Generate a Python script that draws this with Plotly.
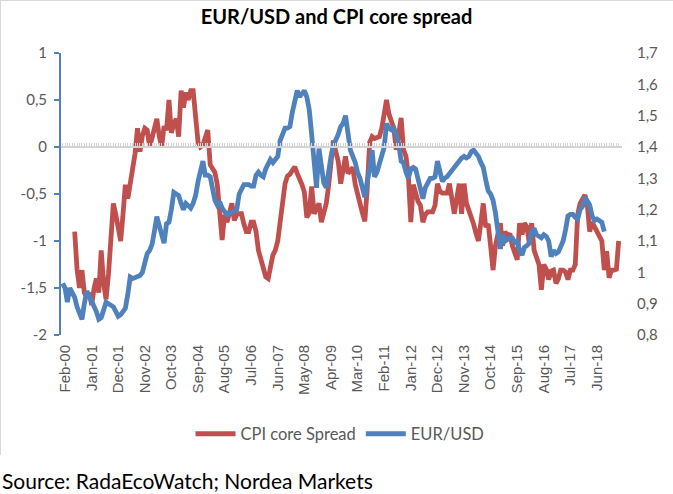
import plotly.graph_objects as go

# ---------------- data ----------------
cpi_dates = [
    "2000-06", "2000-07", "2000-08", "2000-09", "2000-10", "2000-11", "2000-12",
    "2001-01", "2001-02", "2001-03", "2001-04", "2001-05", "2001-06", "2001-07", "2001-08", "2001-09", "2001-10", "2001-11", "2001-12",
    "2002-01", "2002-02", "2002-03", "2002-04", "2002-05", "2002-06", "2002-07", "2002-08", "2002-09", "2002-10", "2002-11", "2002-12",
    "2003-01", "2003-02", "2003-03", "2003-04", "2003-05", "2003-06", "2003-07", "2003-08", "2003-09", "2003-10", "2003-11", "2003-12",
    "2004-01", "2004-02", "2004-03", "2004-04", "2004-05", "2004-06", "2004-07", "2004-08", "2004-09", "2004-10", "2004-11", "2004-12",
    "2005-01", "2005-02", "2005-03", "2005-04", "2005-05", "2005-06", "2005-07", "2005-08", "2005-09", "2005-10", "2005-11", "2005-12",
    "2006-01", "2006-02", "2006-03", "2006-04", "2006-05", "2006-06", "2006-07", "2006-08", "2006-09", "2006-10", "2006-11", "2006-12",
    "2007-01", "2007-02", "2007-03", "2007-04", "2007-05", "2007-06", "2007-07", "2007-08", "2007-09", "2007-10", "2007-11", "2007-12",
    "2008-01", "2008-02", "2008-03", "2008-04", "2008-05", "2008-06", "2008-07", "2008-08", "2008-09", "2008-10", "2008-11", "2008-12",
    "2009-01", "2009-02", "2009-03", "2009-04", "2009-05", "2009-06", "2009-07", "2009-08", "2009-09", "2009-10", "2009-11", "2009-12",
    "2010-01", "2010-02", "2010-03", "2010-04", "2010-05", "2010-06", "2010-07", "2010-08", "2010-09", "2010-10", "2010-11", "2010-12",
    "2011-01", "2011-02", "2011-03", "2011-04", "2011-05", "2011-06", "2011-07", "2011-08", "2011-09", "2011-10", "2011-11", "2011-12",
    "2012-01", "2012-02", "2012-03", "2012-04", "2012-05", "2012-06", "2012-07", "2012-08", "2012-09", "2012-10", "2012-11", "2012-12",
    "2013-01", "2013-02", "2013-03", "2013-04", "2013-05", "2013-06", "2013-07", "2013-08", "2013-09", "2013-10", "2013-11", "2013-12",
    "2014-01", "2014-02", "2014-03", "2014-04", "2014-05", "2014-06", "2014-07", "2014-08", "2014-09", "2014-10", "2014-11", "2014-12",
    "2015-01", "2015-02", "2015-03", "2015-04", "2015-05", "2015-06", "2015-07", "2015-08", "2015-09", "2015-10", "2015-11", "2015-12",
    "2016-01", "2016-02", "2016-03", "2016-04", "2016-05", "2016-06", "2016-07", "2016-08", "2016-09", "2016-10", "2016-11", "2016-12",
    "2017-01", "2017-02", "2017-03", "2017-04", "2017-05", "2017-06", "2017-07", "2017-08", "2017-09", "2017-10", "2017-11", "2017-12",
    "2018-01", "2018-02", "2018-03", "2018-04", "2018-05", "2018-06", "2018-07", "2018-08", "2018-09", "2018-10", "2018-11", "2018-12",
    "2019-01", "2019-02", "2019-03",
]
cpi_spread = [
    -0.90, -1.30, -1.50, -1.31, -1.55, -1.60, -1.55,
    -1.68, -1.50, -1.40, -1.55, -1.10, -1.45, -1.62, -1.35, -1.00, -0.60, -0.72, -0.85,
    -1.00, -0.70, -0.40, -0.55, -0.40, -0.22, -0.07, 0.20, -0.05, 0.12, 0.20, 0.18,
    0.00, 0.10, 0.18, 0.30, 0.12, 0.00, 0.22, 0.18, 0.50, 0.15, 0.25, 0.30,
    0.11, 0.60, 0.42, 0.58, 0.50, 0.60, 0.60, 0.25, 0.05, 0.00, 0.02, 0.10,
    0.18, -0.19, -0.22, -0.27, -0.40, -0.75, -0.99, -0.72, -0.80, -0.70, -0.60, -0.78,
    -0.72, -0.71, -0.71, -0.82, -0.90, -0.90, -0.80, -0.80, -0.90, -1.10, -1.20, -1.30,
    -1.38, -1.40, -1.25, -1.15, -1.10, -1.00, -0.80, -0.60, -0.39, -0.31, -0.29, -0.25,
    -0.21, -0.28, -0.33, -0.40, -0.48, -0.75, -0.70, -0.42, -0.71, -0.65, -0.60, -0.80,
    -0.70, -0.60, -0.42, -0.10, 0.07, -0.05, -0.15, -0.39, -0.20, -0.10, -0.28, -0.25,
    -0.22, -0.40, -0.52, -0.60, -0.70, -0.79, -0.45, 0.05, 0.11, 0.09, 0.10, 0.11,
    0.20, 0.40, 0.50, 0.35, 0.28, 0.20, -0.03, 0.15, 0.31, -0.03, -0.10, -0.30,
    -0.80, -0.40, -0.50, -0.58, -0.62, -0.80, -0.72, -0.69, -0.69, -0.69, -0.62, -0.39,
    -0.47, -0.49, -0.49, -0.49, -0.39, -0.60, -0.71, -0.55, -0.39, -0.71, -0.39, -0.60,
    -0.67, -0.75, -0.82, -0.92, -1.00, -0.80, -0.60, -0.85, -0.82, -1.05, -1.31, -1.05,
    -0.90, -0.81, -1.05, -0.90, -0.95, -0.92, -1.05, -1.13, -1.20, -0.81, -0.93, -0.81,
    -0.85, -1.03, -0.81, -1.10, -1.17, -1.25, -1.52, -1.25, -1.30, -1.41, -1.32, -1.31,
    -1.45, -1.40, -1.31, -1.31, -1.33, -1.41, -1.31, -1.31, -1.25, -0.72, -0.60, -0.55,
    -0.51, -0.63, -0.90, -0.80, -0.85, -0.90, -0.95, -1.00, -1.31, -1.11, -1.39, -1.31,
    -1.31, -1.30, -1.00,
]

eur_dates = [
    "2000-01", "2000-02", "2000-03", "2000-04", "2000-05", "2000-06", "2000-07", "2000-08", "2000-09", "2000-10", "2000-11", "2000-12",
    "2001-01", "2001-02", "2001-03", "2001-04", "2001-05", "2001-06", "2001-07", "2001-08", "2001-09", "2001-10", "2001-11", "2001-12",
    "2002-01", "2002-02", "2002-03", "2002-04", "2002-05", "2002-06", "2002-07", "2002-08", "2002-09", "2002-10", "2002-11", "2002-12",
    "2003-01", "2003-02", "2003-03", "2003-04", "2003-05", "2003-06", "2003-07", "2003-08", "2003-09", "2003-10", "2003-11", "2003-12",
    "2004-01", "2004-02", "2004-03", "2004-04", "2004-05", "2004-06", "2004-07", "2004-08", "2004-09", "2004-10", "2004-11", "2004-12",
    "2005-01", "2005-02", "2005-03", "2005-04", "2005-05", "2005-06", "2005-07", "2005-08", "2005-09", "2005-10", "2005-11", "2005-12",
    "2006-01", "2006-02", "2006-03", "2006-04", "2006-05", "2006-06", "2006-07", "2006-08", "2006-09", "2006-10", "2006-11", "2006-12",
    "2007-01", "2007-02", "2007-03", "2007-04", "2007-05", "2007-06", "2007-07", "2007-08", "2007-09", "2007-10", "2007-11", "2007-12",
    "2008-01", "2008-02", "2008-03", "2008-04", "2008-05", "2008-06", "2008-07", "2008-08", "2008-09", "2008-10", "2008-11", "2008-12",
    "2009-01", "2009-02", "2009-03", "2009-04", "2009-05", "2009-06", "2009-07", "2009-08", "2009-09", "2009-10", "2009-11", "2009-12",
    "2010-01", "2010-02", "2010-03", "2010-04", "2010-05", "2010-06", "2010-07", "2010-08", "2010-09", "2010-10", "2010-11", "2010-12",
    "2011-01", "2011-02", "2011-03", "2011-04", "2011-05", "2011-06", "2011-07", "2011-08", "2011-09", "2011-10", "2011-11", "2011-12",
    "2012-01", "2012-02", "2012-03", "2012-04", "2012-05", "2012-06", "2012-07", "2012-08", "2012-09", "2012-10", "2012-11", "2012-12",
    "2013-01", "2013-02", "2013-03", "2013-04", "2013-05", "2013-06", "2013-07", "2013-08", "2013-09", "2013-10", "2013-11", "2013-12",
    "2014-01", "2014-02", "2014-03", "2014-04", "2014-05", "2014-06", "2014-07", "2014-08", "2014-09", "2014-10", "2014-11", "2014-12",
    "2015-01", "2015-02", "2015-03", "2015-04", "2015-05", "2015-06", "2015-07", "2015-08", "2015-09", "2015-10", "2015-11", "2015-12",
    "2016-01", "2016-02", "2016-03", "2016-04", "2016-05", "2016-06", "2016-07", "2016-08", "2016-09", "2016-10", "2016-11", "2016-12",
    "2017-01", "2017-02", "2017-03", "2017-04", "2017-05", "2017-06", "2017-07", "2017-08", "2017-09", "2017-10", "2017-11", "2017-12",
    "2018-01", "2018-02", "2018-03", "2018-04", "2018-05", "2018-06", "2018-07", "2018-08", "2018-09",
]
eur_usd = [
    0.965, 0.950, 0.905, 0.950, 0.935, 0.920, 0.890, 0.870, 0.850, 0.900, 0.940, 0.925,
    0.910, 0.890, 0.875, 0.850, 0.855, 0.880, 0.905, 0.900, 0.895, 0.890, 0.875, 0.860,
    0.865, 0.875, 0.885, 0.930, 0.985, 0.980, 0.982, 0.985, 0.990, 1.000, 1.040, 1.060,
    1.070, 1.090, 1.130, 1.178, 1.150, 1.120, 1.093, 1.155, 1.160, 1.200, 1.255, 1.250,
    1.245, 1.220, 1.200, 1.220, 1.210, 1.205, 1.220, 1.245, 1.290, 1.330, 1.355, 1.310,
    1.310, 1.305, 1.270, 1.230, 1.215, 1.225, 1.205, 1.195, 1.183, 1.190, 1.190, 1.195,
    1.200, 1.250, 1.265, 1.280, 1.280, 1.280, 1.275, 1.275, 1.310, 1.320, 1.310, 1.305,
    1.330, 1.345, 1.360, 1.350, 1.360, 1.370, 1.420, 1.440, 1.460, 1.460, 1.465, 1.510,
    1.545, 1.580, 1.560, 1.570, 1.580, 1.560, 1.520, 1.440, 1.340, 1.270, 1.395, 1.330,
    1.285, 1.270, 1.330, 1.370, 1.405, 1.420, 1.440, 1.465, 1.475, 1.500, 1.450, 1.390,
    1.370, 1.350, 1.320, 1.300, 1.270, 1.240, 1.290, 1.330, 1.390, 1.305, 1.320, 1.350,
    1.370, 1.400, 1.475, 1.460, 1.455, 1.460, 1.440, 1.410, 1.355, 1.350, 1.320, 1.300,
    1.330, 1.335, 1.330, 1.300, 1.260, 1.235, 1.270, 1.285, 1.300, 1.300, 1.305, 1.355,
    1.320, 1.290, 1.300, 1.305, 1.315, 1.325, 1.340, 1.350, 1.355, 1.365, 1.370, 1.365,
    1.370, 1.385, 1.390, 1.380, 1.370, 1.350, 1.335, 1.295, 1.260, 1.250, 1.230, 1.190,
    1.120, 1.075, 1.120, 1.100, 1.105, 1.110, 1.110, 1.095, 1.100, 1.070, 1.055, 1.080,
    1.085, 1.093, 1.130, 1.140, 1.120, 1.115, 1.110, 1.120, 1.115, 1.100, 1.050, 1.070,
    1.060, 1.065, 1.085, 1.100, 1.135, 1.180, 1.185, 1.185, 1.175, 1.170, 1.200, 1.210,
    1.240, 1.225, 1.215, 1.180, 1.165, 1.170, 1.165, 1.160, 1.130,
]

x_tick_dates = [
    "2000-02", "2001-01", "2001-12", "2002-11", "2003-10", "2004-09", "2005-08",
    "2006-07", "2007-06", "2008-05", "2009-04", "2010-03", "2011-02", "2012-01",
    "2012-12", "2013-11", "2014-10", "2015-09", "2016-08", "2017-07", "2018-06",
]
x_tick_labels = [
    "Feb-00", "Jan-01", "Dec-01", "Nov-02", "Oct-03", "Sep-04", "Aug-05",
    "Jul-06", "Jun-07", "May-08", "Apr-09", "Mar-10", "Feb-11", "Jan-12",
    "Dec-12", "Nov-13", "Oct-14", "Sep-15", "Aug-16", "Jul-17", "Jun-18",
]
left_ticks = [-2, -1.5, -1, -0.5, 0, 0.5, 1]
left_labels = ["-2", "-1,5", "-1", "-0,5", "0", "0,5", "1"]
right_ticks = [0.8, 0.9, 1.0, 1.1, 1.2, 1.3, 1.4, 1.5, 1.6, 1.7]
right_labels = ["0,8", "0,9", "1", "1,1", "1,2", "1,3", "1,4", "1,5", "1,6", "1,7"]

title_text = "EUR/USD and CPI core spread"
source_text = "Source: RadaEcoWatch; Nordea Markets"

# ---------------- styling ----------------
RED = "#C0504D"
BLUE = "#4F81BD"
GREY_TXT = "#595959"
CAL = "Lato, 'Open Sans', sans-serif"
ARIAL = "'Liberation Sans', Arial, sans-serif"
X_RANGE = ["1999-12-12", "2019-04-12"]
W, H = 673, 494
ML, MR, MT, MB = 61, 51, 53, 159
PW, PH = W - ML - MR, H - MT - MB

fig = go.Figure()
fig.add_trace(go.Scatter(
    x=[d + "-01" for d in cpi_dates], y=cpi_spread, name="CPI core Spread",
    mode="lines", line=dict(color=RED, width=4.8), xaxis="x", yaxis="y",
))
fig.add_trace(go.Scatter(
    x=[d + "-01" for d in eur_dates], y=eur_usd, name="EUR/USD",
    mode="lines", line=dict(color=BLUE, width=4.8), xaxis="x2", yaxis="y2",
))

fig.update_layout(
    width=W, height=H,
    margin=dict(l=ML, r=MR, t=MT, b=MB),
    paper_bgcolor="white", plot_bgcolor="white",
    showlegend=True,
    title=dict(text="<b>" + title_text + "</b>", x=0.5, xref="container",
               y=1 - 17 / H, yref="container", yanchor="middle", xanchor="center",
               font=dict(family=CAL, size=20, color="black")),
    # category labels at the bottom
    xaxis=dict(
        type="date", range=X_RANGE, anchor="y",
        tickmode="array", tickvals=[d + "-01" for d in x_tick_dates], ticktext=x_tick_labels,
        tickangle=-90, ticks="", showline=False, showgrid=False, zeroline=False,
        ticklabelstandoff=6,
        tickfont=dict(family=ARIAL, size=15, color=GREY_TXT),
    ),
    # horizontal axis line crossing at 0 with monthly tick marks
    xaxis2=dict(
        type="date", range=X_RANGE, overlaying="x", anchor="free", position=2 / 3,
        showline=True, linecolor="#D3D3D3", linewidth=2,
        ticks="inside", ticklen=3, tickcolor="#D3D3D3", tickwidth=1,
        dtick="M1", tick0="2000-01-01",
        showticklabels=False, showgrid=False, zeroline=False,
    ),
    yaxis=dict(
        range=[-2, 1], anchor="x", tickmode="array", tickvals=left_ticks, ticktext=left_labels,
        showline=True, linecolor=BLUE, linewidth=2,
        ticks="outside", ticklen=5, tickcolor=BLUE, tickwidth=2,
        showgrid=False, zeroline=False, ticklabelstandoff=4,
        tickfont=dict(family=CAL, size=15, color=GREY_TXT),
    ),
    yaxis2=dict(
        range=[0.8, 1.7], overlaying="y", side="right", anchor="x2",
        tickmode="array", tickvals=right_ticks, ticktext=right_labels,
        showline=False, ticks="", showgrid=False, zeroline=False,
        ticklabelstandoff=14,
        tickfont=dict(family=CAL, size=15, color=GREY_TXT),
    ),
    legend=dict(
        orientation="h", x=340 / W, xref="container", xanchor="center",
        y=1 - 434 / H, yref="container", yanchor="middle",
        font=dict(family=CAL, size=16.5, color=GREY_TXT),
        itemwidth=40, tracegroupgap=0, bgcolor="rgba(0,0,0,0)",
    ),
    annotations=[dict(
        text=source_text, xref="paper", yref="paper",
        x=(0 - ML) / PW, y=(MT + PH - 480) / PH, xanchor="left", yanchor="middle",
        showarrow=False, font=dict(family=CAL, size=21, color="black"),
    )],
    shapes=[
        # light chart-area border on the left and top edges
        dict(type="line", xref="paper", yref="paper",
             x0=(0.5 - ML) / PW, x1=(0.5 - ML) / PW,
             y0=(MT + PH - 0) / PH, y1=(MT + PH - 455) / PH,
             line=dict(color="#D9D9D9", width=1)),
        dict(type="line", xref="paper", yref="paper",
             x0=(0.5 - ML) / PW, x1=(W - ML) / PW,
             y0=(MT + PH - 0.5) / PH, y1=(MT + PH - 0.5) / PH,
             line=dict(color="#D9D9D9", width=1)),
    ],
)

fig.write_html("out.html", config={"displayModeBar": False},
               post_script="document.body.style.margin='0';")
